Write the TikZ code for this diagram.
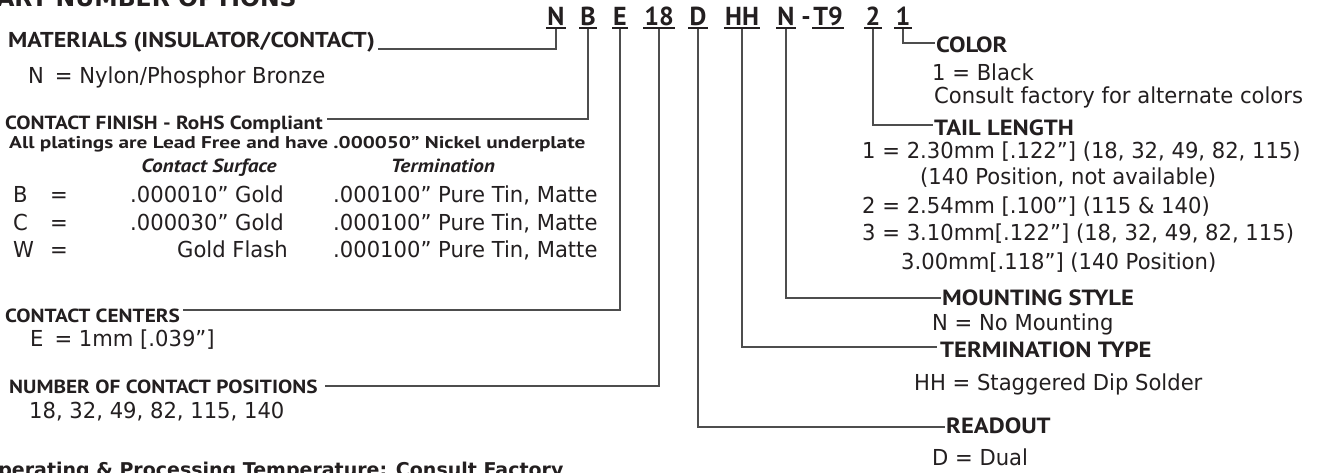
\documentclass[tikz,border=0pt]{standalone}
\usepackage{fontspec}
\newfontfamily\regf{DejaVu Sans}[FakeStretch=0.96]
\newfontfamily\hfont{PT Sans}[FakeStretch=1.12]
\newfontfamily\pfont{PT Sans}[FakeStretch=1.25]
\newfontfamily\cfont{PT Sans}
\newfontfamily\tfont{DejaVu Sans}
\definecolor{txt}{HTML}{231F20}
\definecolor{lineg}{HTML}{4D4D4D}
\tikzset{
  reg/.style={font=\regf\fontsize{22}{26}\selectfont, anchor=base west, inner sep=0pt, text=txt},
  head/.style={font=\hfont\bfseries\fontsize{21.5}{25}\selectfont, anchor=base west, inner sep=0pt, text=txt},
  rhead/.style={head, font=\hfont\bfseries\fontsize{22}{26}\selectfont},
  shead/.style={head, font=\hfont\bfseries\fontsize{19}{23}\selectfont},
  plat/.style={head, font=\pfont\bfseries\fontsize{17}{21}\selectfont},
  colhead/.style={head, anchor=base, font=\hfont\bfseries\itshape\fontsize{19}{23}\selectfont},
  bighead/.style={font=\tfont\bfseries\fontsize{19}{23}\selectfont, anchor=base west, inner sep=0pt, text=txt},
  code/.style={font=\cfont\bfseries\fontsize{26}{30}\selectfont, anchor=base, inner sep=0pt, text=txt},
  conn/.style={draw=lineg, line width=1.6pt},
  uline/.style={draw=txt, line width=2pt},
}
\begin{document}
\begin{tikzpicture}[x=1pt,y=-1pt]
\clip (0,0) rectangle (1319,472);
\fill[white] (0,0) rectangle (1319,472);

% title (cut off by the frame)
\node[bighead, font=\tfont\bfseries\fontsize{23.5}{27}\selectfont] (title) at (-19,6) {PART NUMBER OPTIONS};

% part number code
\node[code] (cN)   at (556,25) {N};
\node[code] (cB)   at (588,25) {B};
\node[code] (cE)   at (620,25) {E};
\node[code] (c18)  at (659,25) {18};
\node[code] (cD)   at (698,25) {D};
\node[code] (cHH)  at (742,25) {HH};
\node[code] (cNm)  at (786,25) {N};
\node[code] (cdash) at (806,25) {-};
\node[code] (cT9)  at (828,25) {T9};
\node[code] (c2)   at (873,25) {2};
\node[code] (c1)   at (903,25) {1};
\foreach \n in {cN,cB,cE,c18,cD,cHH,cNm,cT9,c2,c1}
  \draw[uline] ([xshift=-1pt,yshift=-3pt]\n.base west) -- ([xshift=1pt,yshift=-3pt]\n.base east);

% left column
\node[head] (hmat) at (8,47) {MATERIALS (INSULATOR/CONTACT)};
\node[reg] (tmat) at (28,83) {N\enspace= Nylon/Phosphor Bronze};
\node[shead] (hfin) at (5,129) {CONTACT FINISH - RoHS Compliant};
\node[plat] (tplat) at (9,148) {All platings are Lead Free and have .000050” Nickel underplate};
\node[colhead] (tcs) at (209,172) {Contact Surface};
\node[colhead] (tterm) at (443,172) {Termination};
\node[reg] (rB) at (13,202) {B};
\node[reg] (eB) at (50,202) {=};
\node[reg] (gB) at (130,202) {.000010” Gold};
\node[reg] (tB) at (333,202) {.000100” Pure Tin, Matte};
\node[reg] (rC) at (13,230) {C};
\node[reg] (eC) at (50,230) {=};
\node[reg] (gC) at (130,230) {.000030” Gold};
\node[reg] (tC) at (333,230) {.000100” Pure Tin, Matte};
\node[reg] (rW) at (13,257) {W};
\node[reg] (eW) at (50,257) {=};
\node[reg, anchor=base east] (gW) at (288,257) {Gold Flash};
\node[reg] (tW) at (333,257) {.000100” Pure Tin, Matte};
\node[shead] (hcc) at (5,322) {CONTACT CENTERS};
\node[reg] (tcc) at (30,346) {E\enspace= 1mm [.039”]};
\node[shead] (hnum) at (9,393) {NUMBER OF CONTACT POSITIONS};
\node[reg] (tnum) at (29,418) {18, 32, 49, 82, 115, 140};
\node[bighead] (top) at (-18,476) {Operating \& Processing Temperature: Consult Factory};

% right column
\node[rhead] (hcol) at (936,52) {COLOR};
\node[reg] (tcol1) at (932,80) {1 = Black};
\node[reg] (tcol2) at (934,103) {Consult factory for alternate colors};
\node[rhead] (htail) at (934,135) {TAIL LENGTH};
\node[reg] (tt1) at (862,158) {1 = 2.30mm [.122”] (18, 32, 49, 82, 115)};
\node[reg] (tt2) at (920,184) {(140 Position, not available)};
\node[reg] (tt3) at (862,213) {2 = 2.54mm [.100”] (115 \& 140)};
\node[reg] (tt4) at (862,240) {3 = 3.10mm[.122”] (18, 32, 49, 82, 115)};
\node[reg] (tt5) at (901,269) {3.00mm[.118”] (140 Position)};
\node[rhead] (hmount) at (942,305) {MOUNTING STYLE};
\node[reg] (tmount) at (932,330) {N = No Mounting};
\node[rhead] (hterm) at (940,357) {TERMINATION TYPE};
\node[reg] (ttermt) at (914,390) {HH = Staggered Dip Solder};
\node[rhead] (hread) at (946,433) {READOUT};
\node[reg] (tread) at (932,465) {D = Dual};

% connectors
\draw[conn] ([yshift=-4pt]cN.base)  |- ([xshift=3pt,yshift=-2pt]hmat.base east);
\draw[conn] ([yshift=-4pt]cB.base)  |- ([xshift=4pt,yshift=10pt]hfin.base east);
\draw[conn] ([yshift=-4pt]cE.base)  |- ([xshift=3pt,yshift=12pt]hcc.base east);
\draw[conn] ([yshift=-4pt]c18.base) |- ([xshift=7pt,yshift=7pt]hnum.base east);
\draw[conn] ([yshift=-4pt]cD.base)  |- ([xshift=-1pt,yshift=6pt]hread.base west);
\draw[conn] ([yshift=-4pt]cHH.base) |- ([xshift=-3pt,yshift=10pt]hterm.base west);
\draw[conn] ([yshift=-4pt]cNm.base) |- ([xshift=-1pt,yshift=7pt]hmount.base west);
\draw[conn] ([yshift=-4pt]c2.base)  |- ([xshift=-1pt,yshift=10pt]htail.base west);
\draw[conn] ([yshift=-4pt]c1.base)  |- ([xshift=-1pt,yshift=9pt]hcol.base west);
\end{tikzpicture}
\end{document}
